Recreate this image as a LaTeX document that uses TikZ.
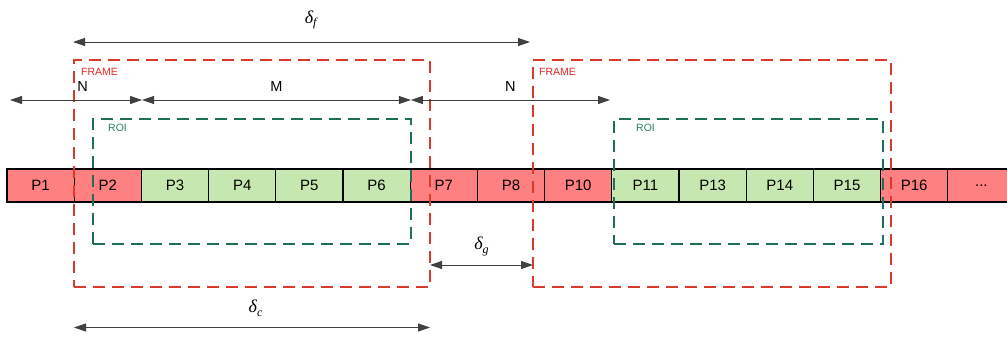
\documentclass[tikz,border=0pt]{standalone}
\usepackage{fontspec}
\setmainfont{Liberation Sans}
\newfontfamily\serifdelta{Liberation Serif}
\usepackage{xcolor}
\usetikzlibrary{arrows.meta}

\definecolor{rojopk}{HTML}{FF8080}
\definecolor{verdepk}{HTML}{C7E7B0}
\definecolor{rojoframe}{HTML}{D83A2C}
\definecolor{txtframe}{HTML}{E32626}
\definecolor{verderoi}{HTML}{1F6E5A}
\definecolor{txtroi}{HTML}{2E7A68}

% delta con subindice
\newcommand{\deltasub}[1]{{\serifdelta\itshape δ\raisebox{-0.22em}{\fontsize{12}{13}\selectfont #1}}}

\tikzset{
  paquete/.style={draw=black, line width=1.3pt, minimum width=67.2pt, minimum height=33pt,
    inner sep=0pt, font=\fontsize{15}{17}\selectfont},
  ventana/.style={draw=rojoframe, line width=1.3pt, dash pattern=on 12pt off 7pt, inner sep=0pt},
  roi/.style={draw=verderoi, line width=1.3pt, dash pattern=on 12pt off 7pt, inner sep=0pt},
  etqframe/.style={text=txtframe, inner sep=0pt, font=\fontsize{10.5}{12}\selectfont},
  etqroi/.style={text=txtroi, inner sep=0pt, font=\fontsize{10.5}{12}\selectfont},
  cota/.style={draw=black!75, line width=0.9pt, {Triangle[length=12pt,width=8pt]}-{Triangle[length=12pt,width=8pt]}},
  etqcota/.style={inner sep=0pt, font=\fontsize{14.5}{16}\selectfont},
  etqdelta/.style={inner sep=0pt, font=\fontsize{18}{20}\selectfont}
}

\begin{document}
\begin{tikzpicture}[x=1pt,y=-1pt]

    \useasboundingbox (0,0) rectangle (1007,338);
    \clip (0,0) rectangle (1007,338);

    % fila de paquetes
    \node[paquete, fill=rojopk] (p1) at (40.6,185.5) {P1};
    \node[paquete, fill=rojopk] (p2) at (107.8,185.5) {P2};
    \node[paquete, fill=verdepk] (p3) at (175,185.5) {P3};
    \node[paquete, fill=verdepk] (p4) at (242.2,185.5) {P4};
    \node[paquete, fill=verdepk] (p5) at (309.4,185.5) {P5};
    \node[paquete, fill=verdepk] (p6) at (376.6,185.5) {P6};
    \node[paquete, fill=rojopk] (p7) at (443.8,185.5) {P7};
    \node[paquete, fill=rojopk] (p8) at (511,185.5) {P8};
    \node[paquete, fill=rojopk] (p10) at (578.2,185.5) {P10};
    \node[paquete, fill=verdepk] (p11) at (645.4,185.5) {P11};
    \node[paquete, fill=verdepk] (p13) at (712.6,185.5) {P13};
    \node[paquete, fill=verdepk] (p14) at (779.8,185.5) {P14};
    \node[paquete, fill=verdepk] (p15) at (847,185.5) {P15};
    \node[paquete, fill=rojopk] (p16) at (914.2,185.5) {P16};
    \node[paquete, fill=rojopk] (pdots) at (981.4,185.5) {...};

    % ventanas (frame)
    \node[ventana, minimum width=356pt, minimum height=227pt] (frame1) at (252,173.5) {};
    \node[ventana, minimum width=358pt, minimum height=227pt] (frame2) at (712,173.5) {};
    \node[etqframe, anchor=west] (lframe1) at (81,72) {FRAME};
    \node[etqframe, anchor=west] (lframe2) at (539,72) {FRAME};

    % regiones de interes
    \node[roi, minimum width=318pt, minimum height=125pt] (roi1) at (252,181.5) {};
    \node[roi, minimum width=269pt, minimum height=125pt] (roi2) at (748.5,181.5) {};
    \node[etqroi, anchor=west] (lroi1) at (108,128) {ROI};
    \node[etqroi, anchor=west] (lroi2) at (636,128) {ROI};

    % cotas N, M, N
    \coordinate (n0) at (10,100);
    \coordinate (n1) at (p2.east |- n0);
    \coordinate (n2) at (p6.east |- n0);
    \coordinate (n3) at (610,100);
    \draw[cota] (n0) -- (n1) node[etqcota, pos=0.55, above=8pt] {N};
    \draw[cota] (n1) -- (n2) node[etqcota, midway, above=8pt] {M};
    \draw[cota] (n2) -- (n3) node[etqcota, midway, above=8pt] {N};

    % delta f
    \coordinate (f0) at (73,42);
    \coordinate (f1) at (530,42);
    \draw[cota] (f0) -- (f1) node[etqdelta, pos=0.52, above=12pt] {\deltasub{f}};

    % delta g
    \coordinate (g0) at (430,265);
    \coordinate (g1) at (533,265);
    \draw[cota] (g0) -- (g1) node[etqdelta, midway, above=9pt] {\deltasub{g}};

    % delta c
    \coordinate (c0) at (74,327.5);
    \coordinate (c1) at (430,327.5);
    \draw[cota] (c0) -- (c1) node[etqdelta, pos=0.51, above=10pt] {\deltasub{c}};

\end{tikzpicture}
\end{document}
